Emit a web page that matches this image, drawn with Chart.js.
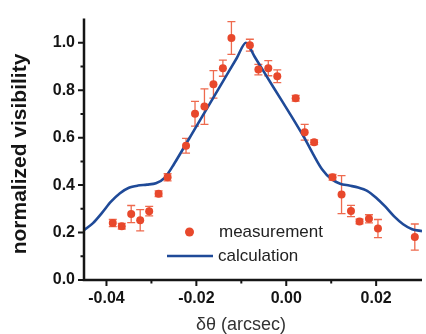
<!DOCTYPE html>
<html>
<head>
<meta charset="utf-8">
<script src="https://cdn.jsdelivr.net/npm/chart.js@4"></script>
<style>
  html, body { margin: 0; padding: 0; background: #fff; }
  #wrap { width: 426px; height: 334px; position: relative; }
</style>
</head>
<body>
<div id="wrap"><canvas id="chart"></canvas></div>
<script>
// measurement points (delta theta in arcsec, normalized visibility, error half-height)
const measX = [-0.0386, -0.0366, -0.0345, -0.0325, -0.0305, -0.0284, -0.0264, -0.0223, -0.0203, -0.0182,
  -0.0162, -0.0141, -0.0122, -0.0081, -0.0062, -0.0040, -0.0020, 0.0021, 0.0041, 0.0062,
  0.0103, 0.0123, 0.0144, 0.0163, 0.0184, 0.0204, 0.0286];
const measY = [0.240, 0.227, 0.278, 0.252, 0.290, 0.364, 0.433, 0.566, 0.701, 0.731,
  0.825, 0.893, 1.020, 0.990, 0.887, 0.893, 0.859, 0.766, 0.623, 0.581,
  0.433, 0.360, 0.291, 0.247, 0.258, 0.217, 0.181];
const measErr = [0.015, 0.012, 0.036, 0.045, 0.020, 0.012, 0.015, 0.031, 0.052, 0.075,
  0.058, 0.034, 0.069, 0.025, 0.022, 0.032, 0.027, 0.012, 0.033, 0.010,
  0.012, 0.080, 0.024, 0.010, 0.017, 0.038, 0.055];

// calculated curve
const calcX = [-0.045, -0.043, -0.041, -0.039, -0.037, -0.035, -0.033, -0.031, -0.029, -0.027,
  -0.025, -0.020, -0.015, -0.011, -0.009, -0.007, -0.003, 0.001, 0.004, 0.006,
  0.008, 0.010, 0.012, 0.014, 0.016, 0.018, 0.020, 0.022, 0.024, 0.026, 0.028, 0.0302];
const calcY = [0.210, 0.240, 0.283, 0.330, 0.366, 0.389, 0.398, 0.402, 0.408, 0.432,
  0.488, 0.648, 0.808, 0.936, 1.000, 0.940, 0.817, 0.695, 0.600, 0.530,
  0.466, 0.426, 0.406, 0.398, 0.390, 0.376, 0.347, 0.310, 0.268, 0.235, 0.214, 0.206];

const xTicks = [-0.04, -0.02, 0.00, 0.02];
const xMinorTicks = [-0.03, -0.01, 0.01];
const yTicks = [0.0, 0.2, 0.4, 0.6, 0.8, 1.0];
const yMinorTicks = [0.1, 0.3, 0.5, 0.7, 0.9];

const RED = '#e8482c';
const BLUE = '#1f4a98';
const INK = '#151515';

const errorBars = {
  id: 'errorBars',
  beforeDatasetsDraw(chart) {
    const {ctx, scales: {x, y}} = chart;
    ctx.save();
    ctx.strokeStyle = '#ee6a4e';
    ctx.lineWidth = 1.3;
    measX.forEach((v, i) => {
      const px = x.getPixelForValue(v);
      const top = y.getPixelForValue(measY[i] + measErr[i]);
      const bot = y.getPixelForValue(measY[i] - measErr[i]);
      ctx.beginPath();
      ctx.moveTo(px, top); ctx.lineTo(px, bot);
      ctx.moveTo(px - 4, top); ctx.lineTo(px + 4, top);
      ctx.moveTo(px - 4, bot); ctx.lineTo(px + 4, bot);
      ctx.stroke();
    });
    ctx.restore();
  }
};

const axesAndLabels = {
  id: 'axesAndLabels',
  afterDraw(chart) {
    const {ctx, chartArea: a, scales: {x, y}} = chart;
    ctx.save();
    ctx.strokeStyle = INK;
    ctx.lineWidth = 2.5;
    ctx.beginPath();
    ctx.moveTo(a.left, a.top);
    ctx.lineTo(a.left, a.bottom);
    ctx.lineTo(a.right, a.bottom);
    ctx.stroke();
    ctx.lineWidth = 2;
    ctx.beginPath();
    yTicks.forEach(v => { const p = y.getPixelForValue(v); ctx.moveTo(a.left, p); ctx.lineTo(a.left - 6, p); });
    yMinorTicks.forEach(v => { const p = y.getPixelForValue(v); ctx.moveTo(a.left, p); ctx.lineTo(a.left - 3.5, p); });
    xTicks.forEach(v => { const p = x.getPixelForValue(v); ctx.moveTo(p, a.bottom); ctx.lineTo(p, a.bottom + 6); });
    xMinorTicks.forEach(v => { const p = x.getPixelForValue(v); ctx.moveTo(p, a.bottom); ctx.lineTo(p, a.bottom + 3.5); });
    ctx.stroke();

    // axis titles
    ctx.fillStyle = INK;
    ctx.textAlign = 'center';
    ctx.textBaseline = 'middle';
    ctx.font = 'bold 21px "Liberation Sans", Arial, sans-serif';
    ctx.save();
    ctx.translate(20, 154);
    ctx.rotate(-Math.PI / 2);
    ctx.fillText('normalized visibility', 0, 0);
    ctx.restore();
    ctx.fillStyle = '#333';
    ctx.font = '18px "Liberation Sans", Arial, sans-serif';
    ctx.fillText('δθ (arcsec)', 241, 325);

    // legend
    ctx.fillStyle = RED;
    ctx.beginPath();
    ctx.arc(189.5, 232, 4.5, 0, Math.PI * 2);
    ctx.fill();
    ctx.strokeStyle = BLUE;
    ctx.lineWidth = 2.5;
    ctx.beginPath();
    ctx.moveTo(167, 256); ctx.lineTo(213, 256);
    ctx.stroke();
    ctx.fillStyle = '#222';
    ctx.textAlign = 'left';
    ctx.font = '17px "Liberation Sans", Arial, sans-serif';
    ctx.fillText('measurement', 219, 232);
    ctx.fillText('calculation', 218, 256);
    ctx.restore();
  }
};

new Chart(document.getElementById('chart'), {
  type: 'scatter',
  data: {
    datasets: [
      {
        label: 'calculation',
        data: calcX.map((v, i) => ({x: v, y: calcY[i]})),
        showLine: true,
        borderColor: BLUE,
        borderWidth: 2.6,
        pointRadius: 0,
        tension: 0.3,
        order: 2
      },
      {
        label: 'measurement',
        data: measX.map((v, i) => ({x: v, y: measY[i]})),
        backgroundColor: RED,
        borderColor: RED,
        borderWidth: 0,
        pointRadius: 4,
        order: 1
      }
    ]
  },
  options: {
    responsive: true,
    maintainAspectRatio: false,
    animation: false,
    layout: {padding: {top: 13, left: 0, right: 0, bottom: 0}},
    plugins: {legend: {display: false}, tooltip: {enabled: false}},
    scales: {
      x: {
        type: 'linear',
        min: -0.045,
        max: 0.0302,
        afterFit(scale) { scale.height = 54; },
        afterBuildTicks(scale) { scale.ticks = xTicks.map(v => ({value: v})); },
        grid: {display: false, drawTicks: false},
        border: {display: false},
        ticks: {
          padding: 9,
          color: INK,
          font: {family: '"Liberation Sans", Arial, sans-serif', size: 16, weight: 'bold'},
          callback: v => v.toFixed(2)
        }
      },
      y: {
        min: 0,
        max: 1.102,
        afterFit(scale) { scale.width = 84; },
        afterBuildTicks(scale) { scale.ticks = yTicks.map(v => ({value: v})); },
        grid: {display: false, drawTicks: false},
        border: {display: false},
        ticks: {
          padding: 9,
          color: INK,
          font: {family: '"Liberation Sans", Arial, sans-serif', size: 16, weight: 'bold'},
          callback: v => v.toFixed(1)
        }
      }
    }
  },
  plugins: [errorBars, axesAndLabels]
});
</script>
</body>
</html>
